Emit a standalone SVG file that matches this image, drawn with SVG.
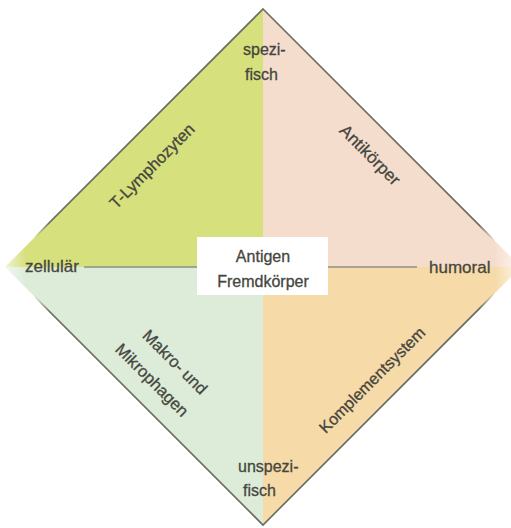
<svg xmlns="http://www.w3.org/2000/svg" width="511" height="528" viewBox="0 0 511 528">
  <style>
    .lbl { font-family: "Liberation Sans", Arial, sans-serif; fill: #46463e; stroke: #46463e; stroke-width: 0.3; }
    .edge { fill: none; stroke: #6b6b62; stroke-width: 1.6; }
  </style>
  <defs>
    <!-- fills soften toward the left and right tips -->
    <linearGradient id="fillFade" x1="0" y1="0" x2="521" y2="0" gradientUnits="userSpaceOnUse">
      <stop offset="0" stop-color="#fff" stop-opacity="0.2"/>
      <stop offset="0.05" stop-color="#fff" stop-opacity="1"/>
      <stop offset="0.95" stop-color="#fff" stop-opacity="1"/>
      <stop offset="1" stop-color="#fff" stop-opacity="0.2"/>
    </linearGradient>
    <!-- outline disappears before reaching the tips -->
    <linearGradient id="edgeFade" x1="0" y1="0" x2="521" y2="0" gradientUnits="userSpaceOnUse">
      <stop offset="0.065" stop-color="#fff" stop-opacity="0"/>
      <stop offset="0.095" stop-color="#fff" stop-opacity="1"/>
      <stop offset="0.92" stop-color="#fff" stop-opacity="1"/>
      <stop offset="0.95" stop-color="#fff" stop-opacity="0"/>
    </linearGradient>
    <mask id="fillMask" maskUnits="userSpaceOnUse" x="0" y="0" width="521" height="528">
      <rect x="0" y="0" width="521" height="528" fill="url(#fillFade)"/>
    </mask>
    <mask id="edgeMask" maskUnits="userSpaceOnUse" x="0" y="0" width="521" height="528">
      <rect x="0" y="0" width="521" height="528" fill="url(#edgeFade)"/>
    </mask>
  </defs>
  <rect width="511" height="528" fill="#ffffff"/>

  <g id="quadrants">
    <g mask="url(#fillMask)">
      <polygon points="263,9 263,267 5,267" fill="#d6e07c"/>
      <polygon points="263,9 521,267 263,267" fill="#f5ddcd"/>
      <polygon points="5,267 263,267 263,525" fill="#dcecd8"/>
      <polygon points="263,267 521,267 263,525" fill="#f6daa8"/>
    </g>
    <polygon class="edge" mask="url(#edgeMask)" points="263,9 521,267 263,525 5,267"/>
  </g>

  <g id="connectors">
    <line x1="84" y1="267" x2="417" y2="267" stroke="#8f8f86" stroke-width="1.5"/>
  </g>

  <g id="center">
    <rect x="197" y="237" width="131" height="58" fill="#ffffff"/>
    <text class="lbl" x="263" y="262" font-size="16" text-anchor="middle">Antigen</text>
    <text class="lbl" x="263" y="287" font-size="16" text-anchor="middle">Fremdkörper</text>
  </g>

  <g id="axis-top">
    <text class="lbl" x="243" y="55" font-size="16">spezi-</text>
    <text class="lbl" x="245" y="80" font-size="16">fisch</text>
  </g>
  <g id="axis-bottom">
    <text class="lbl" x="238" y="472" font-size="16">unspezi-</text>
    <text class="lbl" x="243" y="496" font-size="16">fisch</text>
  </g>
  <g id="axis-left">
    <text class="lbl" x="25" y="272" font-size="17">zellulär</text>
  </g>
  <g id="axis-right">
    <text class="lbl" x="429" y="273" font-size="17">humoral</text>
  </g>

  <g id="t-lymphozyten">
    <text class="lbl" font-size="16.5" text-anchor="middle" transform="translate(156,170) rotate(-45)">T-Lymphozyten</text>
  </g>
  <g id="antikoerper">
    <text class="lbl" font-size="17" text-anchor="middle" transform="translate(366,159) rotate(45)">Antikörper</text>
  </g>
  <g id="komplementsystem">
    <text class="lbl" font-size="16.2" text-anchor="middle" transform="translate(376,384) rotate(-45)">Komplementsystem</text>
  </g>
  <g id="makrophagen">
    <text class="lbl" font-size="16.5" text-anchor="middle" transform="translate(171,366) rotate(45)">Makro- und</text>
    <text class="lbl" font-size="16.5" text-anchor="middle" transform="translate(148,384) rotate(45)">Mikrophagen</text>
  </g>
</svg>
